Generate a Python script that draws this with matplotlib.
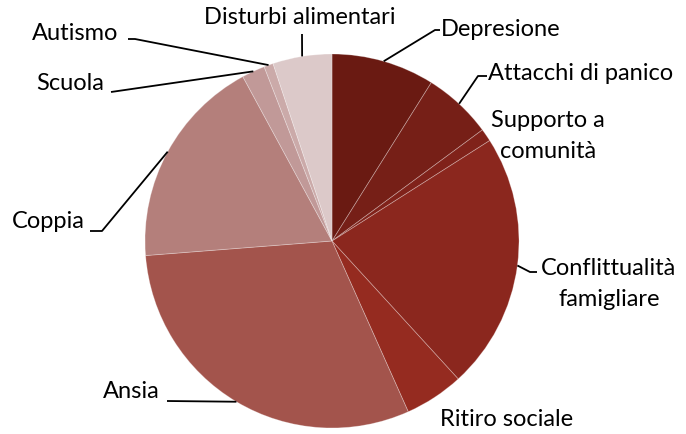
import numpy as np
import matplotlib
matplotlib.use("Agg")
import matplotlib.pyplot as plt

plt.rcParams['font.family'] = ['Lato', 'DejaVu Sans']

# share of each request type (%), clockwise from 12 o'clock
categories = ["Depresione", "Attacchi di panico", "Supporto a\ncomunità",
              "Conflittualità\nfamigliare", "Ritiro sociale", "Ansia", "Coppia",
              "Scuola", "Autismo", "Disturbi alimentari"]
values = [8.9, 5.95, 1.1, 22.2, 5.1, 30.4, 18.3, 2.0, 0.8, 5.1]
colors = ["#6A1A12", "#761F17", "#80221A", "#8B271E", "#952B20",
          "#A3544C", "#B47F7B", "#C19998", "#CBAAA9", "#DCC9C9"]

W, H = 686, 435
CX, CY, R = 332, 242, 187   # pie centre / radius in pixels (y from top)


def px(x, y):
    return x, H - y


fig = plt.figure(figsize=(W / 100, H / 100), dpi=100)
ax = fig.add_axes([0, 0, 1, 1])

wedges, _ = ax.pie(values, colors=colors, startangle=90, counterclock=False,
                   center=px(CX, CY), radius=R,
                   wedgeprops={'edgecolor': (1, 1, 1, 0.3), 'linewidth': 0.6})

# pie() resets the limits, so set them afterwards
ax.set_xlim(0, W)
ax.set_ylim(0, H)
ax.set_aspect('equal')
ax.axis('off')

# label layout: (elbow points or None, text anchor, alignment)
layout = {
    "Depresione": ([(435, 31), (440, 31)], (441, 30), 'left'),
    "Attacchi di panico": ([(478, 77), (487, 77)], (488, 73), 'left'),
    "Supporto a\ncomunità": (None, (548, 136), 'center'),
    "Conflittualità\nfamigliare": ([(530, 273), (537, 273)], (609, 284), 'center'),
    "Ritiro sociale": (None, (507, 420), 'center'),
    "Ansia": ([(167, 402)], (131, 392), 'center'),
    "Coppia": ([(102, 232), (90, 232)], (48, 222), 'center'),
    "Scuola": ([(111, 93)], (70, 84), 'center'),
    "Autismo": ([(135, 40), (128, 40)], (75, 33), 'center'),
    "Disturbi alimentari": ([(302, 35)], (300, 18), 'center'),
}

for w, name in zip(wedges, categories):
    elbow, (tx, ty), ha = layout[name]
    if elbow is not None:
        mid = np.deg2rad((w.theta1 + w.theta2) / 2)
        x0 = w.center[0] + R * np.cos(mid)
        y0 = w.center[1] + R * np.sin(mid)
        pts = [(x0, y0)] + [px(x, y) for x, y in elbow]
        xs, ys = zip(*pts)
        ax.plot(xs, ys, color='black', lw=1.3, solid_capstyle='butt')
    ax.text(*px(tx, ty), name, ha=ha, va='center', fontsize=17,
            linespacing=1.55, color='black')

fig.savefig("out.png", dpi=100)
